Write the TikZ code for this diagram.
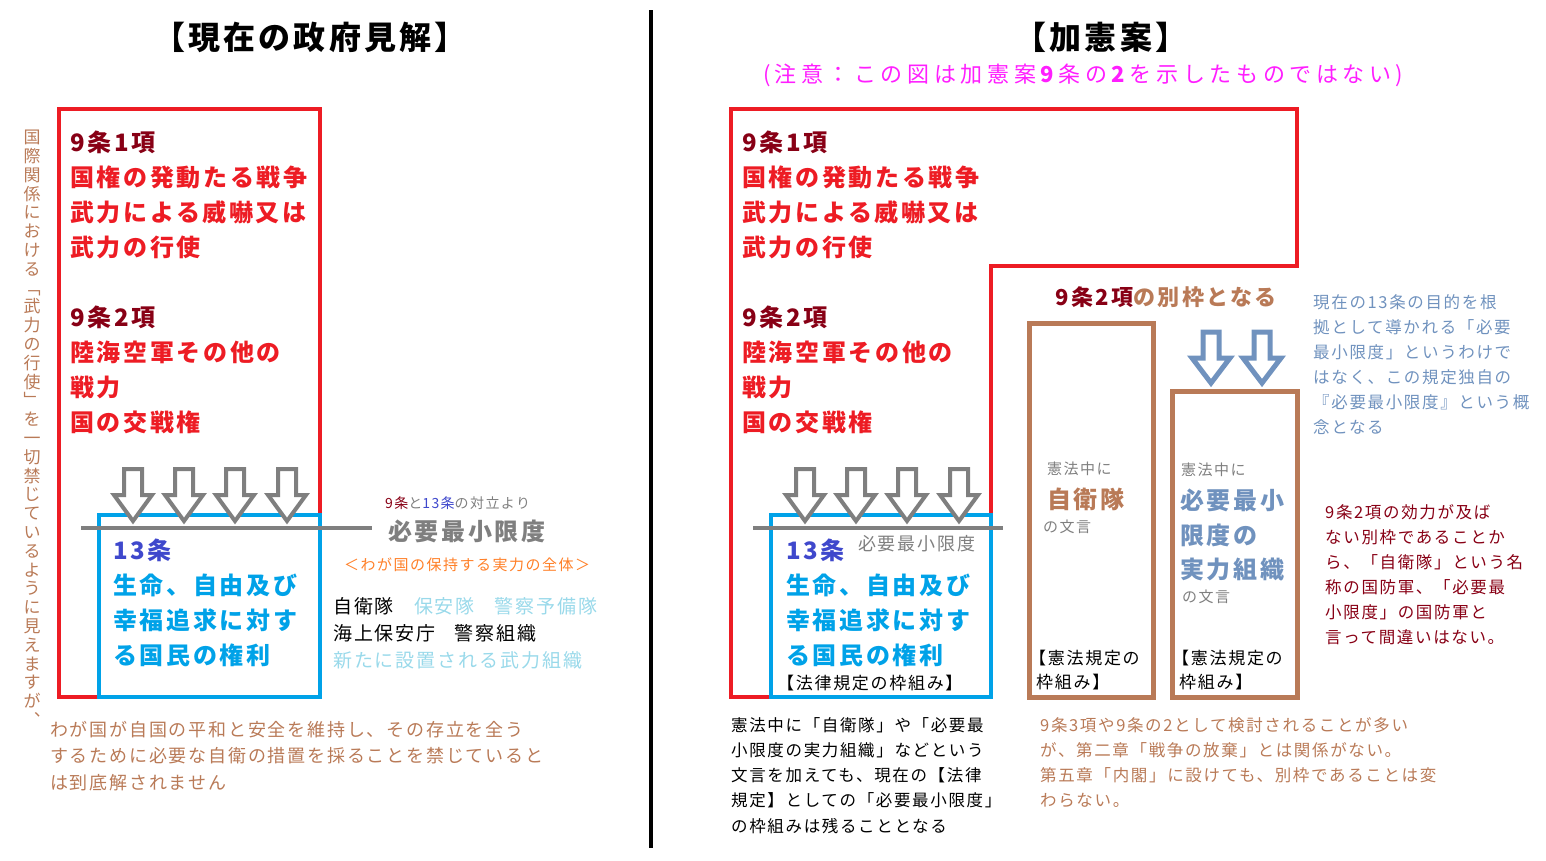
\documentclass[tikz,border=0pt]{standalone}
\usepackage{fontspec}
\setmainfont{Noto Sans CJK JP}
\newfontfamily\jpT{Noto Sans CJK JP}[LetterSpace=10]
\newfontfamily\jpM{Noto Sans CJK JP}[LetterSpace=21]
\newfontfamily\jpB{Noto Sans CJK JP}[LetterSpace=11]
\newfontfamily\jpS{Noto Sans CJK JP}[LetterSpace=10]

\definecolor{kred}{HTML}{ED1C24}
\definecolor{kdark}{HTML}{880015}
\definecolor{kcyan}{HTML}{00A2E8}
\definecolor{kindigo}{HTML}{3F48CC}
\definecolor{kgray}{HTML}{7F7F7F}
\definecolor{korange}{HTML}{FF7F27}
\definecolor{klight}{HTML}{99D9EA}
\definecolor{kbrown}{HTML}{B97A57}
\definecolor{ksteel}{HTML}{7092BE}
\definecolor{kpink}{HTML}{FF1EFF}

\newcommand\bigtxt{\jpB\bfseries\fontsize{24}{35}\selectfont}
\newcommand\smalltxt[2]{\jpS\fontsize{#1}{#2}\selectfont}

\tikzset{
  redline/.style={draw=kred, line width=4.5pt},
  bluebox/.style={draw=kcyan, line width=4.5pt},
  brownbox/.style={draw=kbrown, line width=5pt},
  grayarrow/.style={draw=kgray, fill=white, line width=4pt},
  steelarrow/.style={draw=ksteel, fill=white, line width=5pt},
  txt/.style={inner sep=0pt, anchor=north west, align=left},
  wtxt/.style={inner sep=0pt, anchor=west},
}

\begin{document}
\begin{tikzpicture}[x=1pt,y=-1pt]
        \useasboundingbox (0,0) rectangle (1546,860);

        % titles
        \node[font=\jpT\bfseries\fontsize{32}{32}\selectfont] (titleL) at (310,37) {【現在の政府見解】};
        \node[font=\jpT\bfseries\fontsize{32}{32}\selectfont] (titleR) at (1101,37) {【加憲案】};
        \node[font=\jpM\fontsize{22}{22}\selectfont, text=kpink] (note) at (1083,75) {(\,注意：この図は加憲案\textbf{9}条の\textbf{2}を示したものではない\,)};

        \draw[line width=4pt] (651,10) -- (651,848);

        % left side
        \draw[redline] (59,109) rectangle (320,697);
        \draw[bluebox] (99,515) rectangle (320,697);
        \foreach \ax in {133,184,235,287}
            \draw[grayarrow] (\ax-9,469) -- (\ax+9,469) -- (\ax+9,495) -- (\ax+19,495) -- (\ax,521) -- (\ax-19,495) -- (\ax-9,495) -- cycle;
        \draw[kgray, line width=4pt] (81,528) -- (372,528);

        \node[txt, font=\bigtxt, text=kred] (art9L) at (70,131) {\textcolor{kdark}{9条1項}\\国権の発動たる戦争\\武力による威嚇又は\\武力の行使\\[35pt]\textcolor{kdark}{9条2項}\\陸海空軍その他の\\戦力\\国の交戦権};
        \node[txt, font=\bigtxt, text=kcyan] (art13L) at (113,539) {\textcolor{kindigo}{13条}\\生命、自由及び\\幸福追求に対す\\る国民の権利};

        \node[wtxt, font=\smalltxt{14}{14}, text=kgray] (clash) at (385,503) {\textcolor{kdark}{9条}と\textcolor{kindigo}{13条}の対立より};
        \node[wtxt, font=\bigtxt, text=kgray] (minL) at (388,531) {必要最小限度};
        \node[inner sep=0pt, font=\smalltxt{15}{15}, text=korange] (whole) at (467,565) {＜わが国の保持する実力の全体＞};
        \node[txt, font=\smalltxt{19}{27}] (forces) at (333,597) {自衛隊\hspace{20pt}\textcolor{klight}{保安隊\hspace{20pt}警察予備隊}\\海上保安庁\hspace{19pt}警察組織\\\textcolor{klight}{新たに設置される武力組織}};

        \node[anchor=north, inner sep=0pt, align=center, font=\smalltxt{17}{18.8}, text=kbrown] (sideL) at (32,130) {国\\際\\関\\係\\に\\お\\け\\る\\﹁\\武\\力\\の\\行\\使\\﹂\\を\\一\\切\\禁\\じ\\て\\い\\る\\よ\\う\\に\\見\\え\\ま\\す\\が\\︑};
        \node[txt, font=\smalltxt{18}{26.5}, text=kbrown] (courtL) at (50,721) {わが国が自国の平和と安全を維持し、その存立を全う\\するために必要な自衛の措置を採ることを禁じていると\\は到底解されません};

        % right side
        \draw[redline] (731,109) -- (1297,109) -- (1297,266) -- (991,266) -- (991,697) -- (731,697) -- cycle;
        \draw[bluebox] (771,515) rectangle (991,697);
        \foreach \ax in {805,856,907,959}
            \draw[grayarrow] (\ax-9,469) -- (\ax+9,469) -- (\ax+9,495) -- (\ax+19,495) -- (\ax,521) -- (\ax-19,495) -- (\ax-9,495) -- cycle;
        \draw[kgray, line width=4pt] (753,528) -- (1003,528);

        \node[txt, font=\bigtxt, text=kred] (art9R) at (742,131) {\textcolor{kdark}{9条1項}\\国権の発動たる戦争\\武力による威嚇又は\\武力の行使\\[35pt]\textcolor{kdark}{9条2項}\\陸海空軍その他の\\戦力\\国の交戦権};
        \node[txt, font=\bigtxt, text=kcyan] (art13R) at (786,539) {\textcolor{kindigo}{13条}\\生命、自由及び\\幸福追求に対す\\る国民の権利};
        \node[wtxt, font=\smalltxt{18}{18}, text=kgray] (minR) at (858,544) {必要最小限度};
        \node[txt, font=\smalltxt{17}{24}] (lawR) at (777,675) {【法律規定の枠組み】};

        \node[wtxt, font=\jpB\bfseries\fontsize{22}{22}\selectfont, text=kbrown] (apart) at (1055,297) {\textcolor{kdark}{9条2項}の別枠となる};

        \draw[brownbox] (1029,323) rectangle (1153,697);
        \draw[brownbox] (1172,391) rectangle (1297,697);
        \foreach \ax in {1211,1262}
            \draw[steelarrow] (\ax-8,332) -- (\ax+8,332) -- (\ax+8,358) -- (\ax+19,358) -- (\ax,383) -- (\ax-19,358) -- (\ax-8,358) -- cycle;

        \node[wtxt, font=\smalltxt{15}{15}, text=kgray] (inA) at (1047,469) {憲法中に};
        \node[wtxt, font=\bigtxt, text=kbrown] (sdfA) at (1047,499) {自衛隊};
        \node[wtxt, font=\smalltxt{15}{15}, text=kgray] (wordA) at (1043,527) {の文言};
        \node[txt, font=\smalltxt{17}{24}] (frameA) at (1036,650) {\hspace*{-7pt}【憲法規定の\\枠組み】};

        \node[wtxt, font=\smalltxt{15}{15}, text=kgray] (inB) at (1181,470) {憲法中に};
        \node[txt, font=\jpB\bfseries\fontsize{24}{34.5}\selectfont, text=ksteel] (minB) at (1180,489) {必要最小\\限度の\\実力組織};
        \node[wtxt, font=\smalltxt{15}{15}, text=kgray] (wordB) at (1182,597) {の文言};
        \node[txt, font=\smalltxt{17}{24}] (frameB) at (1179,650) {\hspace*{-7pt}【憲法規定の\\枠組み】};

        \node[txt, font=\smalltxt{16.5}{25}, text=ksteel] (ownR) at (1313,294) {現在の13条の目的を根\\拠として導かれる「必要\\最小限度」というわけで\\はなく、この規定独自の\\『必要最小限度』という概\\念となる};
        \node[txt, font=\smalltxt{16.5}{25}, text=kdark] (armyR) at (1325,504) {9条2項の効力が及ば\\ない別枠であることか\\ら、「自衛隊」という名\\称の国防軍、「必要最\\小限度」の国防軍と\\言って間違いはない。};
        \node[txt, font=\smalltxt{16.5}{25.25}] (stayR) at (731,717) {憲法中に「自衛隊」や「必要最\\小限度の実力組織」などという\\文言を加えても、現在の【法律\\規定】としての「必要最小限度」\\の枠組みは残ることとなる};
        \node[txt, font=\smalltxt{16.5}{25.25}, text=kbrown] (chapR) at (1040,717) {9条3項や9条の2として検討されることが多い\\が、第二章「戦争の放棄」とは関係がない。\\第五章「内閣」に設けても、別枠であることは変\\わらない。};
\end{tikzpicture}
\end{document}
